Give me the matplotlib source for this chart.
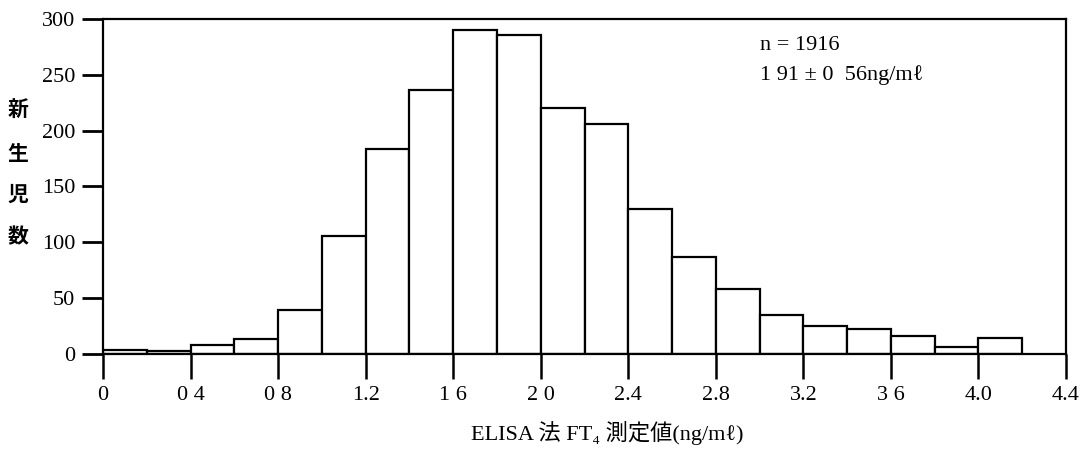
import matplotlib
matplotlib.use("Agg")
import matplotlib.pyplot as plt

# bins of 0.2 ng/ml, counts
bin_left = [0.0, 0.2, 0.4, 0.6, 0.8, 1.0, 1.2, 1.4, 1.6, 1.8, 2.0,
            2.2, 2.4, 2.6, 2.8, 3.0, 3.2, 3.4, 3.6, 3.8, 4.0]
counts = [4, 3, 8, 13, 39, 106, 184, 236, 290, 286, 220,
          206, 130, 87, 58, 35, 25, 22, 16, 6, 14]

xticks = [0.0, 0.4, 0.8, 1.2, 1.6, 2.0, 2.4, 2.8, 3.2, 3.6, 4.0, 4.4]
xticklabels = ["0", "0 4", "0 8", "1.2", "1 6", "2 0", "2.4", "2.8",
               "3.2", "3 6", "4.0", "4.4"]
yticks = [0, 50, 100, 150, 200, 250, 300]

serif = ["Liberation Serif", "DejaVu Serif"]
mixed = ["Liberation Serif", "Noto Sans CJK JP", "DejaVu Serif"]
plt.rcParams["font.family"] = serif

fig = plt.figure(figsize=(10.89, 4.59), dpi=100)
ax = fig.add_axes([0.0946, 0.2288, 0.8843, 0.7298])

ax.bar(bin_left, counts, width=0.2, align="edge",
       facecolor="white", edgecolor="black", linewidth=1.6)

ax.set_xlim(0, 4.4)
ax.set_ylim(0, 300)
for s in ax.spines.values():
    s.set_linewidth(1.6)

ax.set_xticks(xticks)
ax.set_xticklabels(xticklabels, fontsize=16)
ax.set_yticks(yticks)
ax.set_yticklabels([str(v) for v in yticks], fontsize=16)
ax.tick_params(axis="x", direction="out", length=18, width=1.8, pad=5)
ax.tick_params(axis="y", direction="out", length=15, width=2, pad=5)

# y label: stacked vertical characters
for ch, yy in zip("新生児数", [112, 155, 196, 238]):
    fig.text(18 / 1089, 1 - yy / 459, ch, family=mixed, fontsize=15,
             fontweight="bold", ha="center", va="center")

fig.text(607 / 1089, 1 - 433 / 459, "ELISA 法 FT\u2084 測定値(ng/m\u2113)",
         family=mixed, fontsize=16, ha="center", va="center")

ax.text(760 / 1089, 1 - 45 / 459, "n = 1916", transform=fig.transFigure,
        fontsize=16, ha="left", va="center")
ax.text(760 / 1089, 1 - 75 / 459, "1 91 \u00b1 0  56ng/m\u2113",
        transform=fig.transFigure, fontsize=16, ha="left", va="center")

fig.savefig("out.png", dpi=100)
